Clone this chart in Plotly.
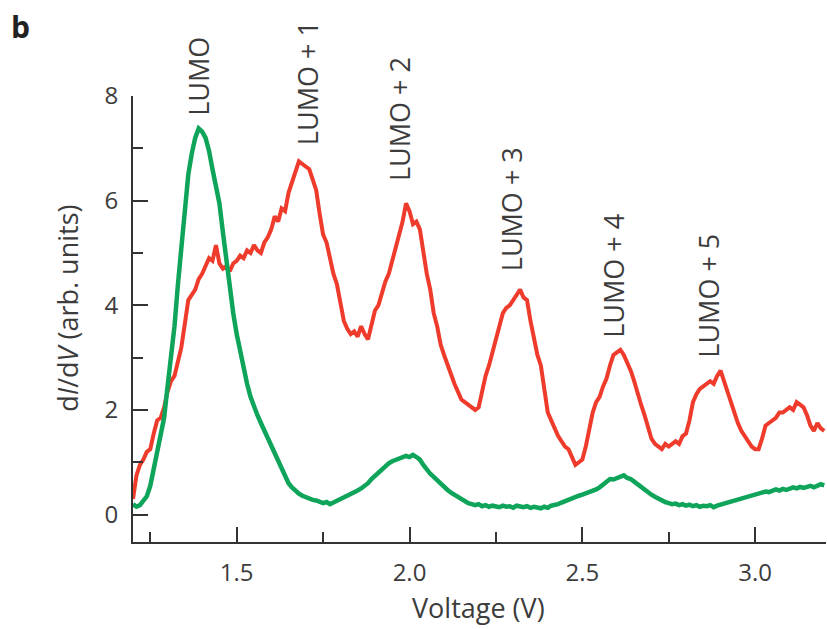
import plotly.graph_objects as go

# Voltage sampling grid (V): 1.20 ... 3.20 in 0.01 V steps
V_START, V_STEP, N_POINTS = 1.20, 0.01, 201
voltage = [round(V_START + V_STEP * i, 2) for i in range(N_POINTS)]

# dI/dV (arb. units), red trace
red_didv = [
    0.30, 0.75, 0.95, 1.05, 1.20, 1.25, 1.55, 1.80, 1.85, 2.05,   # 1.20-1.29
    2.35, 2.55, 2.65, 2.90, 3.20, 3.65, 4.10, 4.20, 4.30, 4.50,   # 1.30-1.39
    4.60, 4.75, 4.90, 4.85, 5.15, 4.80, 4.70, 4.75, 4.65, 4.80,   # 1.40-1.49
    4.85, 4.95, 4.90, 5.05, 5.00, 5.15, 5.05, 5.00, 5.20, 5.30,   # 1.50-1.59
    5.45, 5.70, 5.60, 5.85, 5.80, 6.15, 6.35, 6.55, 6.75, 6.70,   # 1.60-1.69
    6.65, 6.60, 6.40, 6.20, 5.75, 5.35, 5.20, 4.85, 4.60, 4.40,   # 1.70-1.79
    4.05, 3.70, 3.55, 3.45, 3.50, 3.40, 3.60, 3.45, 3.35, 3.60,   # 1.80-1.89
    3.90, 4.00, 4.25, 4.45, 4.60, 4.85, 5.10, 5.40, 5.60, 5.95,   # 1.90-1.99
    5.80, 5.55, 5.60, 5.45, 5.00, 4.60, 4.30, 3.85, 3.60, 3.25,   # 2.00-2.09
    3.05, 2.85, 2.65, 2.50, 2.35, 2.20, 2.15, 2.10, 2.05, 2.00,   # 2.10-2.19
    2.05, 2.40, 2.65, 2.85, 3.10, 3.40, 3.65, 3.85, 3.95, 4.00,   # 2.20-2.29
    4.10, 4.20, 4.30, 4.15, 4.10, 3.70, 3.35, 3.05, 2.85, 2.40,   # 2.30-2.39
    1.95, 1.80, 1.65, 1.50, 1.40, 1.30, 1.25, 1.10, 0.95, 1.00,   # 2.40-2.49
    1.05, 1.30, 1.60, 1.95, 2.15, 2.25, 2.45, 2.60, 2.85, 3.05,   # 2.50-2.59
    3.10, 3.15, 3.05, 2.90, 2.75, 2.55, 2.30, 2.10, 1.90, 1.70,   # 2.60-2.69
    1.45, 1.35, 1.30, 1.25, 1.35, 1.30, 1.35, 1.40, 1.35, 1.50,   # 2.70-2.79
    1.55, 1.80, 2.15, 2.30, 2.40, 2.45, 2.50, 2.55, 2.50, 2.65,   # 2.80-2.89
    2.75, 2.55, 2.30, 2.10, 1.95, 1.75, 1.60, 1.50, 1.40, 1.30,   # 2.90-2.99
    1.25, 1.25, 1.45, 1.70, 1.75, 1.80, 1.85, 1.95, 1.95, 2.00,   # 3.00-3.09
    2.05, 2.00, 2.15, 2.10, 2.05, 1.90, 1.70, 1.60, 1.75, 1.65,   # 3.10-3.19
    1.60,                                                         # 3.20
]

# dI/dV (arb. units), green trace
green_didv = [
    0.20, 0.15, 0.18, 0.25, 0.35, 0.55, 0.90, 1.20, 1.50, 1.85,   # 1.20-1.29
    2.45, 2.95, 3.60, 4.40, 5.10, 5.90, 6.50, 6.90, 7.20, 7.38,   # 1.30-1.39
    7.32, 7.20, 6.95, 6.60, 6.25, 5.95, 5.40, 4.85, 4.30, 3.85,   # 1.40-1.49
    3.45, 3.10, 2.80, 2.50, 2.25, 2.05, 1.90, 1.75, 1.60, 1.45,   # 1.50-1.59
    1.30, 1.15, 1.00, 0.85, 0.70, 0.60, 0.52, 0.45, 0.40, 0.36,   # 1.60-1.69
    0.33, 0.30, 0.28, 0.27, 0.25, 0.22, 0.24, 0.20, 0.23, 0.26,   # 1.70-1.79
    0.30, 0.32, 0.35, 0.38, 0.43, 0.46, 0.50, 0.55, 0.60, 0.68,   # 1.80-1.89
    0.74, 0.80, 0.86, 0.93, 0.98, 1.02, 1.05, 1.08, 1.10, 1.12,   # 1.90-1.99
    1.10, 1.14, 1.10, 1.05, 0.95, 0.85, 0.78, 0.72, 0.65, 0.58,   # 2.00-2.09
    0.52, 0.47, 0.42, 0.38, 0.33, 0.28, 0.26, 0.22, 0.20, 0.18,   # 2.10-2.19
    0.20, 0.16, 0.18, 0.15, 0.17, 0.16, 0.14, 0.17, 0.15, 0.16,   # 2.20-2.29
    0.13, 0.17, 0.15, 0.14, 0.16, 0.13, 0.15, 0.14, 0.12, 0.15,   # 2.30-2.39
    0.13, 0.17, 0.18, 0.20, 0.23, 0.26, 0.28, 0.32, 0.34, 0.36,   # 2.40-2.49
    0.38, 0.40, 0.42, 0.45, 0.48, 0.52, 0.58, 0.64, 0.68, 0.67,   # 2.50-2.59
    0.70, 0.72, 0.75, 0.70, 0.68, 0.63, 0.58, 0.52, 0.46, 0.42,   # 2.60-2.69
    0.38, 0.34, 0.30, 0.27, 0.24, 0.22, 0.20, 0.21, 0.18, 0.20,   # 2.70-2.79
    0.17, 0.19, 0.16, 0.18, 0.15, 0.17, 0.16, 0.18, 0.14, 0.17,   # 2.80-2.89
    0.19, 0.20, 0.22, 0.24, 0.26, 0.28, 0.30, 0.32, 0.34, 0.36,   # 2.90-2.99
    0.38, 0.40, 0.42, 0.44, 0.43, 0.45, 0.48, 0.46, 0.49, 0.47,   # 3.00-3.09
    0.50, 0.52, 0.50, 0.53, 0.51, 0.54, 0.55, 0.52, 0.56, 0.58,   # 3.10-3.19
    0.56,                                                         # 3.20
]

# Peak labels
peak_labels = ["LUMO", "LUMO + 1", "LUMO + 2", "LUMO + 3", "LUMO + 4", "LUMO + 5"]
peak_label_v = [1.389, 1.703, 1.973, 2.296, 2.590, 2.865]
peak_label_y = [7.58, 7.02, 6.34, 4.61, 3.35, 2.97]

x_ticks = [1.5, 2.0, 2.5, 3.0]
y_ticks = [0, 2, 4, 6, 8]

RED = "#ee3b2b"
GREEN = "#0ea45a"
TEXT = "#3c3c3c"
AXIS = "#333333"
FONT = "Open Sans"

fig = go.Figure()
fig.add_trace(go.Scatter(x=voltage, y=red_didv, mode="lines",
                         line=dict(color=RED, width=4), showlegend=False))
fig.add_trace(go.Scatter(x=voltage, y=green_didv, mode="lines",
                         line=dict(color=GREEN, width=4.5), showlegend=False))

for lab, xv, yv in zip(peak_labels, peak_label_v, peak_label_y):
    fig.add_annotation(x=xv, y=yv, xref="x", yref="y", text=lab, textangle=-90,
                       showarrow=False, xanchor="center", yanchor="bottom",
                       font=dict(family=FONT, size=27, color=TEXT))

# Panel letter
fig.add_annotation(x=-0.162, y=1.155, xref="paper", yref="paper", text="<b>b</b>",
                   showarrow=False, xanchor="center", yanchor="middle",
                   font=dict(family=FONT, size=30, color="#222222"))
# Axis titles
fig.add_annotation(x=-0.094, y=0.525, xref="paper", yref="paper",
                   text="d<i>I</i>/d<i>V</i> (arb. units)", textangle=-90,
                   showarrow=False, xanchor="center", yanchor="middle",
                   font=dict(family=FONT, size=27, color=TEXT))
fig.add_annotation(x=0.498, y=-0.147, xref="paper", yref="paper",
                   text="Voltage (V)", showarrow=False, xanchor="center", yanchor="middle",
                   font=dict(family=FONT, size=27, color=TEXT))

fig.update_xaxes(range=[1.2, 3.205], tickvals=x_ticks, ticktext=[f"{v:.1f}" for v in x_ticks],
                 ticks="inside", ticklen=15, tickwidth=2, tickcolor=AXIS,
                 minor=dict(ticks="inside", ticklen=10, tickwidth=2, tickcolor=AXIS,
                            dtick=0.25, tick0=1.25, showgrid=False),
                 showline=True, linecolor=AXIS, linewidth=2, showgrid=False, zeroline=False,
                 tickfont=dict(family=FONT, size=24, color=TEXT), ticklabelstandoff=8)
fig.update_yaxes(range=[-0.524, 8], tickvals=y_ticks,
                 ticks="inside", ticklen=15, tickwidth=2, tickcolor=AXIS,
                 minor=dict(ticks="inside", ticklen=10, tickwidth=2, tickcolor=AXIS,
                            dtick=1, tick0=1, showgrid=False),
                 showline=True, linecolor=AXIS, linewidth=2, showgrid=False, zeroline=False,
                 tickfont=dict(family=FONT, size=24, color=TEXT), ticklabelstandoff=8)

fig.update_layout(width=827, height=629, margin=dict(l=133, r=1, t=96, b=87),
                  plot_bgcolor="white", paper_bgcolor="white", showlegend=False)

fig.write_html("out.html")
